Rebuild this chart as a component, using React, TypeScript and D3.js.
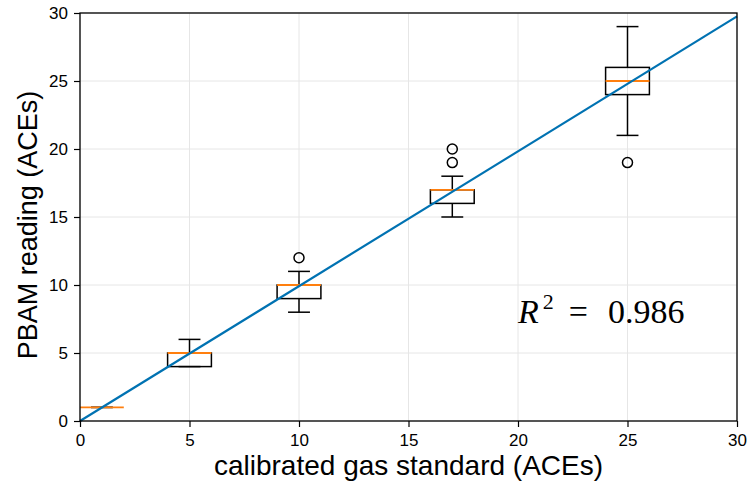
import { useRef, useEffect } from 'react'
import * as d3 from 'd3'

// box stats: position, whisker low, q1, median, q3, whisker high
const positions = [1, 5, 10, 17, 25]
const whiskerLow = [1, 4, 8, 15, 21]
const q1s = [1, 4, 9, 16, 24]
const medians = [1, 5, 10, 17, 25]
const q3s = [1, 5, 10, 17, 26]
const whiskerHigh = [1, 6, 11, 18, 29]
const outliers: [number, number][] = [
  [10, 12],
  [17, 19],
  [17, 20],
  [25, 19],
]
const fitLine: [number, number][] = [
  [0, 0],
  [30, 29.75],
]
const ticks = [0, 5, 10, 15, 20, 25, 30]

const App = () => {
  const svgRef = useRef<SVGSVGElement>(null)

  useEffect(() => {
    const svg = d3.select(svgRef.current)
    svg.selectAll('*').remove()

    const margin = { top: 13, right: 10, bottom: 66, left: 80 }
    const width = 747
    const height = 487
    const innerWidth = width - margin.left - margin.right
    const innerHeight = height - margin.top - margin.bottom

    const x = d3.scaleLinear().domain([0, 30]).range([0, innerWidth])
    const y = d3.scaleLinear().domain([0, 30]).range([innerHeight, 0])

    const g = svg
      .append('g')
      .attr('transform', `translate(${margin.left} ${margin.top})`)

    // grid
    g.selectAll('.gx')
      .data(ticks)
      .join('line')
      .attr('x1', (d) => x(d))
      .attr('x2', (d) => x(d))
      .attr('y1', 0)
      .attr('y2', innerHeight)
      .attr('stroke', '#e6e6e6')
    g.selectAll('.gy')
      .data(ticks)
      .join('line')
      .attr('y1', (d) => y(d))
      .attr('y2', (d) => y(d))
      .attr('x1', 0)
      .attr('x2', innerWidth)
      .attr('stroke', '#e6e6e6')

    const boxes = positions.map((p, i) => ({
      p,
      lo: whiskerLow[i],
      q1: q1s[i],
      med: medians[i],
      q3: q3s[i],
      hi: whiskerHigh[i],
    }))

    const bg = g.append('g').attr('stroke', 'black').attr('stroke-width', 1.5).attr('fill', 'none')
    boxes.forEach((b) => {
      bg.append('rect')
        .attr('x', x(b.p - 1))
        .attr('width', x(b.p + 1) - x(b.p - 1))
        .attr('y', y(b.q3))
        .attr('height', y(b.q1) - y(b.q3))
      bg.append('line').attr('x1', x(b.p)).attr('x2', x(b.p)).attr('y1', y(b.q1)).attr('y2', y(b.lo))
      bg.append('line').attr('x1', x(b.p)).attr('x2', x(b.p)).attr('y1', y(b.q3)).attr('y2', y(b.hi))
      bg.append('line').attr('x1', x(b.p - 0.5)).attr('x2', x(b.p + 0.5)).attr('y1', y(b.lo)).attr('y2', y(b.lo))
      bg.append('line').attr('x1', x(b.p - 0.5)).attr('x2', x(b.p + 0.5)).attr('y1', y(b.hi)).attr('y2', y(b.hi))
      bg.append('line')
        .attr('x1', x(b.p - 1))
        .attr('x2', x(b.p + 1))
        .attr('y1', y(b.med))
        .attr('y2', y(b.med))
        .attr('stroke', '#ff7f0e')
        .attr('stroke-width', 1.8)
    })

    g.selectAll('.out')
      .data(outliers)
      .join('circle')
      .attr('cx', (d) => x(d[0]))
      .attr('cy', (d) => y(d[1]))
      .attr('r', 5)
      .attr('fill', 'none')
      .attr('stroke', 'black')
      .attr('stroke-width', 1.5)

    const line = d3
      .line<[number, number]>()
      .x((d) => x(d[0]))
      .y((d) => y(d[1]))
    g.append('path')
      .attr('d', line(fitLine))
      .attr('stroke', '#0072b2')
      .attr('stroke-width', 2.2)
      .attr('fill', 'none')

    // frame
    g.append('rect')
      .attr('width', innerWidth)
      .attr('height', innerHeight)
      .attr('fill', 'none')
      .attr('stroke', 'black')
      .attr('stroke-width', 1.3)

    const xAxis = d3.axisBottom(x).tickValues(ticks).tickSize(6).tickPadding(7).tickFormat(d3.format('d'))
    const yAxis = d3.axisLeft(y).tickValues(ticks).tickSize(6).tickPadding(6).tickFormat(d3.format('d'))
    const xg = g.append('g').attr('transform', `translate(0, ${innerHeight})`).call(xAxis)
    const yg = g.append('g').call(yAxis)
    ;[xg, yg].forEach((a) => {
      a.select('.domain').remove()
      a.selectAll('.tick line').attr('stroke', 'black').attr('stroke-width', 1.2)
      a.selectAll('.tick text')
        .attr('fill', 'black')
        .attr('font-size', 17)
        .attr('font-family', 'Liberation Sans, Arial, sans-serif')
    })

    svg.append('text')
      .text('calibrated gas standard (ACEs)')
      .attr('x', margin.left + innerWidth / 2)
      .attr('y', 475)
      .attr('text-anchor', 'middle')
      .attr('font-size', 28)
      .attr('font-family', 'Liberation Sans, Arial, sans-serif')

    svg.append('text')
      .text('PBAM reading (ACEs)')
      .attr('transform', `translate(37 ${margin.top + innerHeight / 2 + 8}) rotate(-90)`)
      .attr('text-anchor', 'middle')
      .attr('font-size', 27)
      .attr('font-family', 'Liberation Sans, Arial, sans-serif')

    const r2 = g.append('text')
      .attr('x', x(20))
      .attr('y', y(7.2))
      .attr('font-size', 34)
      .attr('font-family', 'Liberation Serif, DejaVu Serif, serif')
    r2.append('tspan').text('R').attr('font-style', 'italic')
    r2.append('tspan').text('2').attr('font-size', 22).attr('dy', -14).attr('dx', 4)
    r2.append('tspan').text('=').attr('dy', 14).attr('dx', 15)
    r2.append('tspan').text('0.986').attr('dx', 20)
  }, [])

  return (
    <svg
      ref={svgRef}
      width={747}
      height={487}
      style={{ position: 'absolute', left: 0, top: 0 }}
    ></svg>
  )
}

export default App
